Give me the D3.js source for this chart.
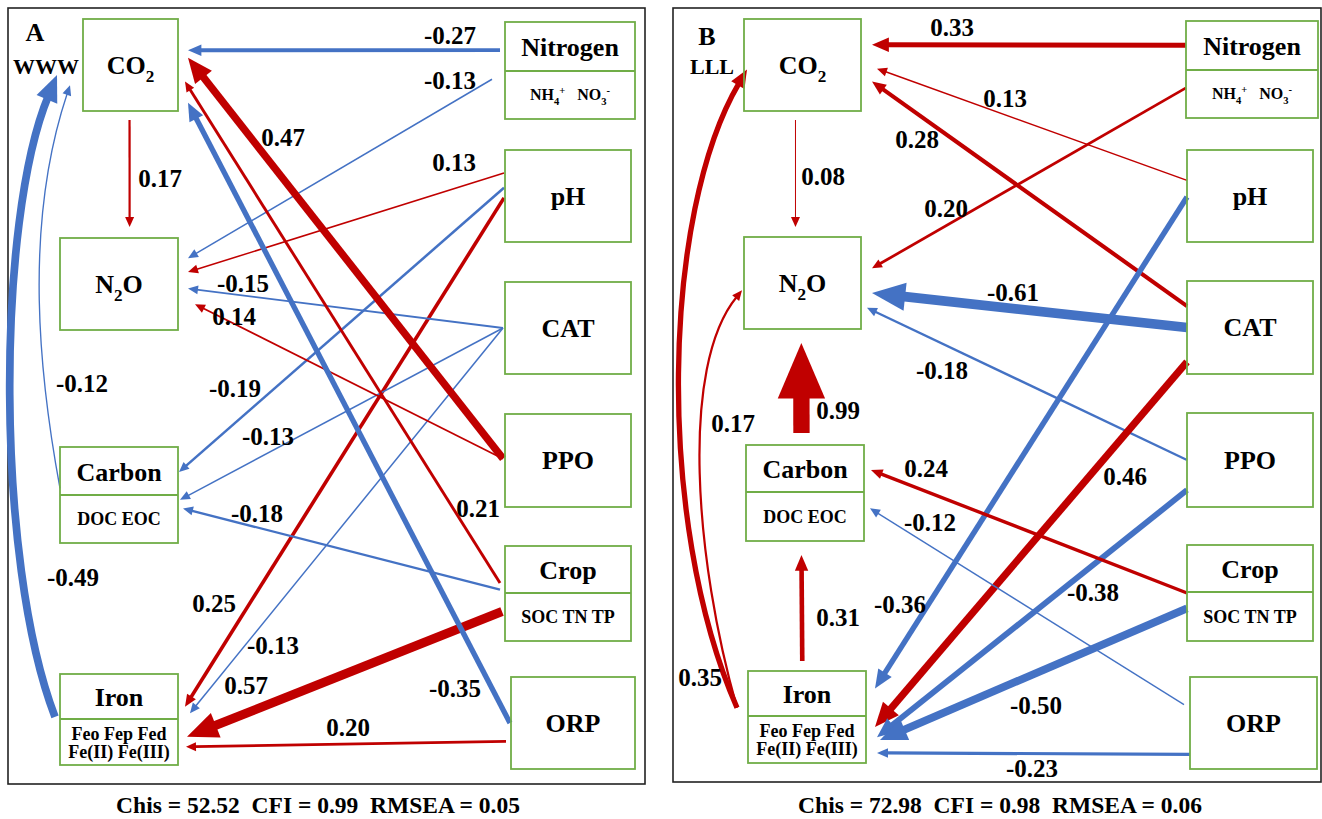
<!DOCTYPE html>
<html>
<head>
<meta charset="utf-8">
<script src="https://cdn.jsdelivr.net/npm/d3@7/dist/d3.min.js"></script>
<style>
  body { margin: 0; background: #fff; }
</style>
</head>
<body>
<svg id="chart" width="1322" height="819" font-family="Liberation Serif" font-weight="bold"></svg>
<script>
// ---- data -------------------------------------------------------------
var panelTags = ["A", "B"];
var panelNotes = ["WWW", "LLL"];

// path coefficients, panel A
var fromA = ["Nitrogen","Nitrogen","pH","pH","pH","CAT","CAT","CAT","PPO","PPO","Crop","Crop","Crop","ORP","ORP","CO2","Carbon","Iron"];
var toA   = ["CO2","N2O","N2O","Carbon","Iron","N2O","Carbon","Iron","CO2","N2O","CO2","Carbon","Iron","CO2","Iron","N2O","CO2","CO2"];
var coefA = [-0.27,-0.13,0.13,-0.19,0.25,-0.15,-0.13,-0.13,0.47,0.14,0.21,-0.18,0.57,-0.35,0.20,0.17,-0.12,-0.49];

// path coefficients, panel B
var fromB = ["Nitrogen","pH","CAT","Nitrogen","CAT","PPO","pH","CAT","PPO","Crop","Crop","ORP","ORP","CO2","Carbon","Iron","Iron","Iron"];
var toB   = ["CO2","CO2","CO2","N2O","N2O","N2O","Iron","Iron","Iron","Carbon","Iron","Carbon","Iron","N2O","N2O","Carbon","CO2","N2O"];
var coefB = [0.33,0.13,0.28,0.20,-0.61,-0.18,-0.36,0.46,-0.38,0.24,-0.50,-0.12,-0.23,0.08,0.99,0.31,0.35,0.17];

// model fit
var fitNames = ["Chis", "CFI", "RMSEA"];
var fitA = [52.52, 0.99, 0.05];
var fitB = [72.98, 0.98, 0.06];

// node labels (0 normal, 1 sub, 2 sup)
var nodeTitle = {
  CO2: [["CO",0],["2",1]], N2O: [["N",0],["2",1],["O",0]], Carbon: [["Carbon",0]],
  Iron: [["Iron",0]], Nitrogen: [["Nitrogen",0]], pH: [["pH",0]], CAT: [["CAT",0]],
  PPO: [["PPO",0]], Crop: [["Crop",0]], ORP: [["ORP",0]]
};
var nodeSub = {
  Nitrogen: [[["NH",0],["4",1],["+",2],["   NO",0],["3",1],["-",2]]],
  Carbon: [[["DOC EOC",0]]],
  Crop: [[["SOC TN TP",0]]],
  Iron: [[["Feo Fep Fed",0]], [["Fe(II) Fe(III)",0]]]
};

// ---- layout -----------------------------------------------------------
var layoutA = {
  frame: [8, 8, 645, 784], tag: [35, 32], note: [46, 66], fit: [318, 805],
  boxes: {
    CO2: [83,19,178,111], N2O: [60,238,178,330], Carbon: [60,447,178,543,495],
    Iron: [60,674,178,765,719], Nitrogen: [505,22,635,119,71], pH: [505,150,631,242],
    CAT: [505,282,631,374], PPO: [505,414,631,507], Crop: [505,546,631,641,593],
    ORP: [511,677,635,769]
  },
  // [srcSide, srcFrac, srcGap, tgtSide, tgtFrac, tgtGap, labelX, labelY, c1, c2]
  ports: [
    ["L",0.29,5,"R",0.34,10,450,35],
    ["L",0.59,13,"R",0.22,10,450,80],
    ["L",0.25,1,"R",0.37,10,454,162],
    ["L",0.41,1,"R",0.26,1,235,388],
    ["L",0.52,1,"R",0.36,7,214,603],
    ["L",0.50,2,"R",0.55,10,243,283],
    ["L",0.50,2,"R",0.55,2,268,436],
    ["L",0.50,2,"R",0.43,12,273,645],
    ["L",0.48,2,"R",0.42,10,283,137],
    ["L",0.48,2,"R",0.72,17,234,316],
    ["L",0.39,5,"R",0.68,7,478,508],
    ["L",0.46,5,"R",0.64,5,257,513],
    ["L",0.69,3,"R",0.69,9,246,685],
    ["L",0.50,1,"R",0.91,10,455,688],
    ["L",0.70,5,"R",0.80,8,348,727],
    ["B",0.49,9,"T",0.59,11,160,178],
    ["L",0.43,0,"L",0.72,13,82,383,[40,380],[25,220]],
    ["L",0.47,5,"L",0.61,26,73,577,[-5,560],[5,200]]
  ]
};
var layoutB = {
  frame: [673, 8, 1321, 782], tag: [707, 36], note: [712, 66], fit: [1000, 805],
  boxes: {
    CO2: [744,19,861,111], N2O: [744,237,861,329], Carbon: [746,445,864,541,492],
    Iron: [748,671,866,763,716], Nitrogen: [1186,21,1318,118,70], pH: [1187,150,1313,242],
    CAT: [1187,281,1313,374], PPO: [1187,413,1313,507], Crop: [1187,545,1313,641,592],
    ORP: [1190,677,1317,769]
  },
  ports: [
    ["L",0.25,0,"R",0.28,11,952,27],
    ["L",0.33,0,"R",0.54,16,1005,98],
    ["L",0.27,0,"R",0.68,11,917,139],
    ["L",0.69,0,"R",0.34,11,946,208],
    ["L",0.50,0,"R",0.61,11,1013,292],
    ["L",0.50,0,"R",0.77,6,942,370],
    ["L",0.51,0,"R",0.19,9,900,604],
    ["L",0.87,0,"R",0.61,9,1125,476],
    ["L",0.82,0,"R",0.72,11,1093,592],
    ["L",0.50,0,"R",0.26,7,926,468],
    ["L",0.66,0,"R",0.75,14,1036,705],
    ["L",0.30,6,"R",0.66,6,930,522],
    ["L",0.84,0,"R",0.89,11,1032,768],
    ["B",0.44,9,"T",0.44,10,823,176],
    ["T",0.47,12,"B",0.49,14,838,410],
    ["T",0.46,10,"B",0.47,14,838,617],
    ["L",0.40,11,"L",0.55,-3,700,677,[655,520],[670,200]],
    ["L",0.40,11,"L",0.58,2,733,423,[695,560],[685,360]]
  ]
};

var RED = "#C00000", BLUE = "#4472C4", GREEN = "#70AD47";
var FONT = "Liberation Serif";
var widthScale = d3.scaleLinear().domain([0.1, 1]).range([1, 16.5]).clamp(true);
var colorOf = function(v) { return v < 0 ? BLUE : RED; };

var svg = d3.select("#chart");

function richText(g, parts, x, y, size) {
  var t = g.append("text").attr("x", x).attr("y", y + size * 0.34)
    .attr("text-anchor", "middle").attr("font-size", size)
    .attr("font-family", FONT).attr("font-weight", "bold")
    .style("white-space", "pre");
  var cur = 0;
  parts.forEach(function(p) {
    var off = p[1] === 1 ? size * 0.3 : (p[1] === 2 ? -size * 0.38 : 0);
    t.append("tspan").attr("dy", off - cur)
      .attr("font-size", p[1] ? size * 0.66 : size).text(p[0]);
    cur = off;
  });
  return t;
}

function plainText(g, x, y, size, str) {
  return g.append("text").attr("x", x).attr("y", y)
    .attr("text-anchor", "middle").attr("font-size", size)
    .attr("font-family", FONT).attr("font-weight", "bold")
    .style("white-space", "pre").text(str);
}

function sidePoint(b, side, f, gap) {
  if (side === "L") return [b[0] - gap, b[1] + f * (b[3] - b[1])];
  if (side === "R") return [b[2] + gap, b[1] + f * (b[3] - b[1])];
  if (side === "T") return [b[0] + f * (b[2] - b[0]), b[1] - gap];
  return [b[0] + f * (b[2] - b[0]), b[3] + gap];
}

function drawPanel(L, from, to, coef, tag, note, fit) {
  var g = svg.append("g");
  var fr = L.frame;
  g.append("rect").attr("x", fr[0]).attr("y", fr[1])
    .attr("width", fr[2] - fr[0]).attr("height", fr[3] - fr[1])
    .attr("fill", "none").attr("stroke", "#222").attr("stroke-width", 1.6);

  // paths
  var edges = coef.map(function(v, i) {
    var p = L.ports[i];
    var s = sidePoint(L.boxes[from[i]], p[0], p[1], p[2]);
    var t = sidePoint(L.boxes[to[i]], p[3], p[4], p[5]);
    return { v: v, s: s, t: t, c1: p[8], c2: p[9], lab: [p[6], p[7]] };
  });

  var eg = g.append("g");
  edges.forEach(function(e) {
    var w = widthScale(Math.abs(e.v));
    var col = colorOf(e.v);
    var hl = Math.max(10, w * 3.4), hw = Math.max(4.5, w * 1.45);
    var ref = e.c2 || e.s;
    var dx = e.t[0] - ref[0], dy = e.t[1] - ref[1];
    var len = Math.sqrt(dx * dx + dy * dy);
    var ux = dx / len, uy = dy / len;
    var back = hl * 0.85;
    var end = [e.t[0] - ux * back, e.t[1] - uy * back];
    var path = d3.path();
    path.moveTo(e.s[0], e.s[1]);
    if (e.c1) {
      path.bezierCurveTo(e.c1[0], e.c1[1], e.c2[0] - ux * back, e.c2[1] - uy * back, end[0], end[1]);
    } else {
      path.lineTo(end[0], end[1]);
    }
    eg.append("path").attr("d", path.toString()).attr("fill", "none")
      .attr("stroke", col).attr("stroke-width", w);
    var bx = e.t[0] - ux * hl, by = e.t[1] - uy * hl;
    eg.append("polygon")
      .attr("points", [[e.t[0], e.t[1]], [bx - uy * hw, by + ux * hw], [bx + uy * hw, by - ux * hw]].join(" "))
      .attr("fill", col);
  });

  // boxes
  Object.keys(L.boxes).forEach(function(k) {
    var b = L.boxes[k];
    g.append("rect").attr("x", b[0]).attr("y", b[1])
      .attr("width", b[2] - b[0]).attr("height", b[3] - b[1])
      .attr("fill", "none").attr("stroke", GREEN).attr("stroke-width", 1.8);
    var cx = (b[0] + b[2]) / 2;
    if (b[4]) {
      g.append("line").attr("x1", b[0]).attr("x2", b[2]).attr("y1", b[4]).attr("y2", b[4])
        .attr("stroke", GREEN).attr("stroke-width", 1.8);
      richText(g, nodeTitle[k], cx, (b[1] + b[4]) / 2 + 1, 26);
      var subs = nodeSub[k];
      var subH = (b[3] - b[4]) / subs.length;
      subs.forEach(function(line, j) {
        var sz = k === "Nitrogen" ? 16 : 18;
        richText(g, line, cx, b[4] + subH * (j + 0.5) + (subs.length > 1 ? (j ? -2 : 3) : 0), sz);
      });
    } else {
      richText(g, nodeTitle[k], cx, (b[1] + b[3]) / 2, 26);
    }
  });

  // coefficient labels
  edges.forEach(function(e) {
    plainText(g, e.lab[0], e.lab[1] + 8.5, 25, e.v.toFixed(2));
  });

  plainText(g, L.tag[0], L.tag[1] + 9, 26, tag);
  plainText(g, L.note[0], L.note[1] + 8, 22, note);

  var fitText = fitNames.map(function(n, i) {
    return n + " = " + fit[i].toFixed(2);
  }).join("  ");
  plainText(g, L.fit[0], L.fit[1] + 8, 23.5, fitText);
}

drawPanel(layoutA, fromA, toA, coefA, panelTags[0], panelNotes[0], fitA);
drawPanel(layoutB, fromB, toB, coefB, panelTags[1], panelNotes[1], fitB);
</script>
</body>
</html>
